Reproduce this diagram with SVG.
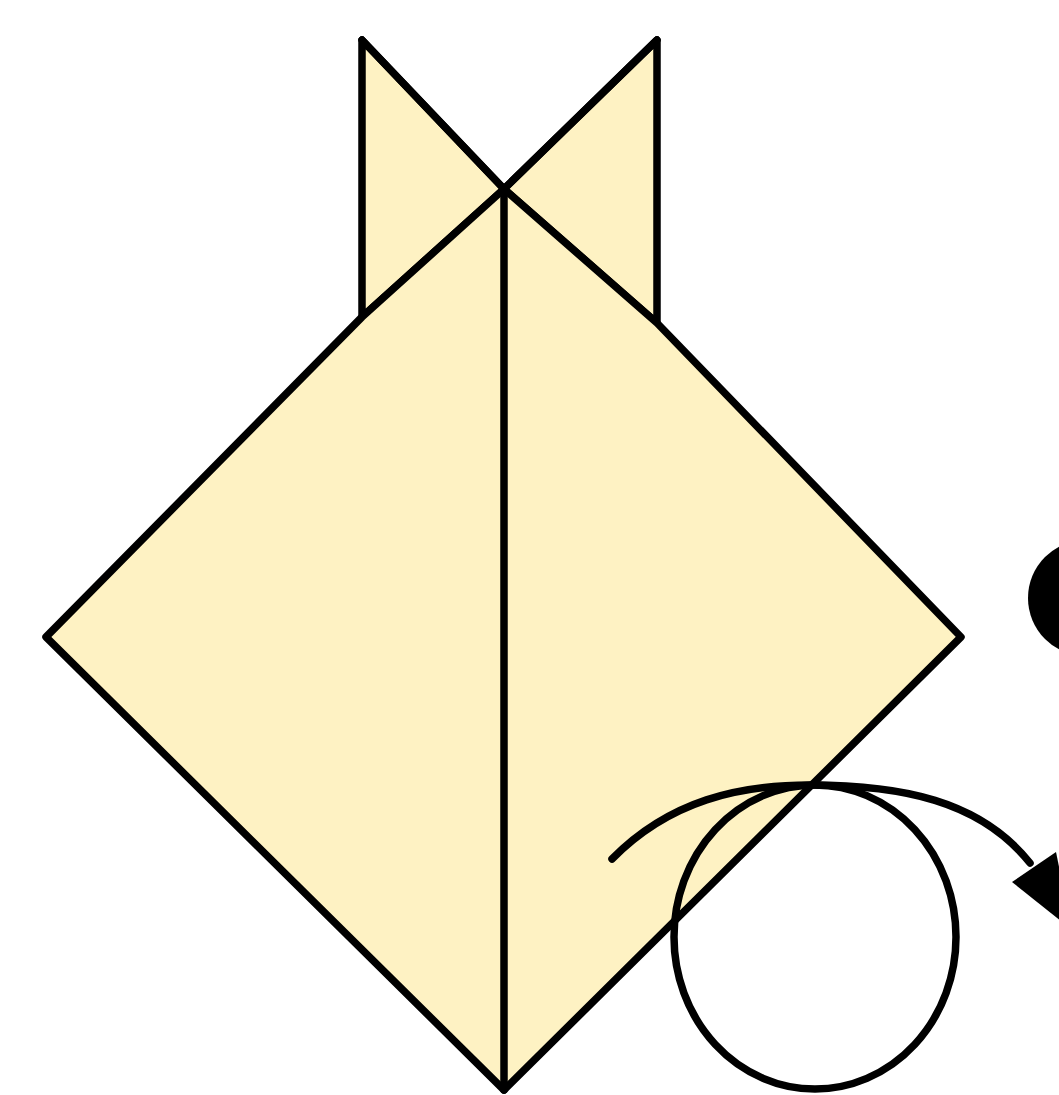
<svg xmlns="http://www.w3.org/2000/svg" width="1059" height="1095" viewBox="0 0 1059 1095">
<style>
.paper{fill:#FEF2C3;stroke:#000;stroke-width:7.5;stroke-linejoin:round;stroke-linecap:round}
.line{fill:none;stroke:#000;stroke-width:7.5;stroke-linecap:round;stroke-linejoin:round}
</style>
<rect width="1059" height="1095" fill="#fff"/>
<g id="ear-left"><polygon class="paper" points="362,40 362,317 504,189"/></g>
<g id="ear-right"><polygon class="paper" points="657,40 657,323 504,189"/></g>
<g id="diamond"><polygon class="paper" points="46,637 362,317 504,189 657,323 961,637 504,1090"/></g>
<g id="crease"><line class="line" x1="504" y1="189" x2="504" y2="1090"/></g>
<g id="ear-lines">
<line class="line" x1="362" y1="40" x2="504" y2="189"/>
<line class="line" x1="657" y1="40" x2="504" y2="189"/>
</g>
<g id="dot"><circle cx="1086" cy="598" r="58" fill="#000"/></g>
<g id="connectors">
<ellipse class="line" cx="815" cy="937" rx="141" ry="152"/>
<path class="line" d="M612,859 C670,800 740,785 810,785 C900,785 980,800 1030,863"/>
<polygon points="1012,882 1056,852 1072,930" fill="#000"/>
</g>
</svg>
